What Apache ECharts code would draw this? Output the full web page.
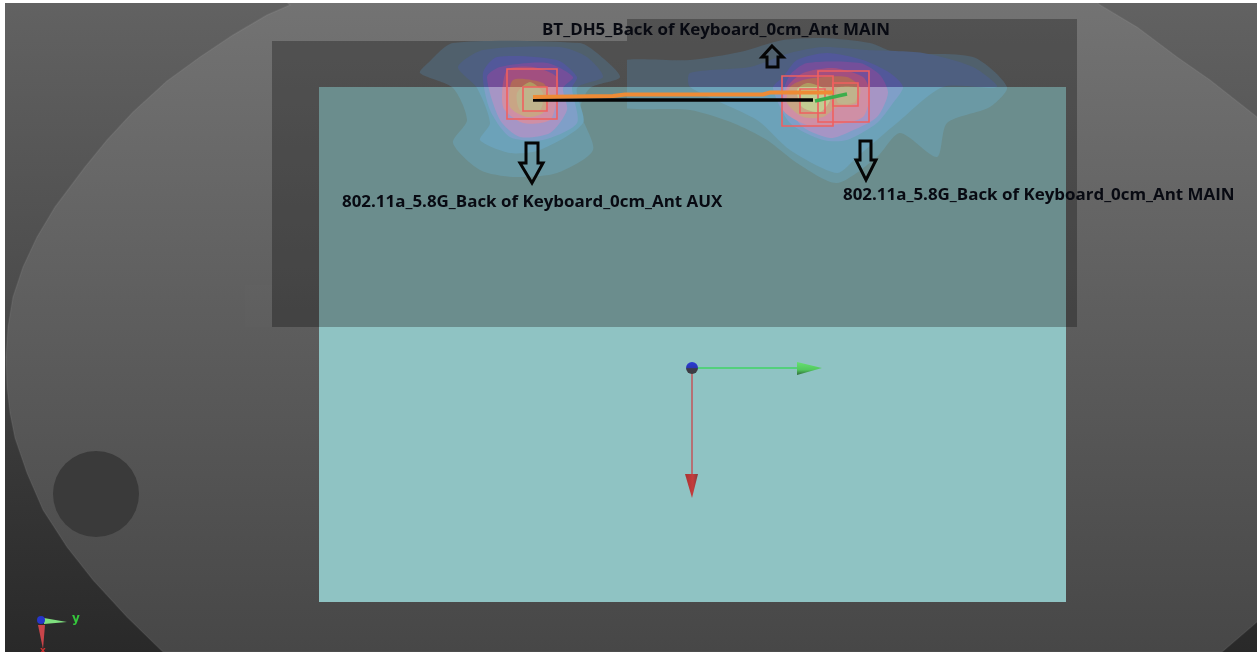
<!DOCTYPE html>
<html><head><meta charset="utf-8">
<style>html,body{margin:0;padding:0;background:#fff}#c{width:1257px;height:652px}</style>
<script src="https://cdn.jsdelivr.net/npm/echarts@6/dist/echarts.min.js"></script>
</head><body><div id="c"></div>
<script>
// ---- values, in the axis units of the scan plane ----
const boardOutline=[[284,0],[1095,0],[1100,5],[1137,27],[1177,57],[1210,80],[1257,117],[1300,170],[1340,370],[1300,590],[1257,622],[1222,652],[163,652],[127,617],[93,580],[67,547],[43,510],[27,473],[15,438],[10,413],[7,387],[6,357],[8,327],[13,297],[23,267],[37,237],[55,207],[85,167],[107,140],[133,112],[167,81],[200,57],[233,35],[267,15],[290,5]];
const darkOverlay=[[272,41],[627,41],[627,19],[1077,19],[1077,327],[272,327]];
const faintPatch=[[245,285],[272,285],[272,327],[245,327]];
const tealUpper=[[319,87],[1066,87],[1066,327],[319,327]];
const tealLower=[[319,327],[1066,327],[1066,602],[319,602]];
const leftL1=[[420,73],[428,63],[453,43],[580,43],[597,53],[620,77],[590,88],[580,110],[593,150],[557,173],[513,177],[480,170],[453,143],[467,120],[453,88]];
const leftL2=[[458,67],[483,50],[560,47],[587,57],[603,77],[577,88],[583,123],[540,150],[510,153],[480,140],[490,123],[477,88]];
const leftL3=[[483,73],[497,57],[557,60],[577,77],[572,88],[577,123],[543,140],[510,137],[490,110]];
const leftL4=[[487,77],[500,67],[547,63],[573,77],[563,88],[567,110],[550,133],[520,137],[500,120]];
const leftL5=[[507,70],[533,67],[557,77],[557,97],[550,120],[523,123],[503,107]];
const leftL6=[[513,80],[543,83],[550,97],[543,113],[527,117],[510,107]];
const leftL7=[[517,93],[530,82],[543,93],[540,110],[520,110]];
const rightL1=[[612,63],[690,60],[740,52],[783,40],[823,38],[870,43],[897,53],[973,57],[1007,87],[990,107],[947,123],[937,157],[900,133],[877,157],[837,183],[797,163],[767,140],[733,123],[690,110],[612,105]];
const rightL2=[[690,73],[750,67],[790,53],[823,47],[867,50],[923,53],[973,67],[997,87],[943,87],[897,123],[857,157],[837,173],[790,150],[757,120],[690,87]];
const rightL3=[[783,77],[797,60],[827,53],[863,60],[890,73],[903,87],[893,103],[877,123],[847,140],[823,140],[790,123],[773,88]];
const rightL4=[[790,75],[807,63],[860,63],[880,75],[888,93],[877,117],[847,133],[830,138],[803,127],[783,97]];
const rightL5=[[787,87],[803,73],[833,68],[863,77],[870,93],[863,117],[833,125],[807,125],[783,110]];
const rightL6=[[790,87],[803,80],[823,77],[847,77],[860,87],[857,103],[837,107],[823,117],[803,117],[787,103]];
const rightL7=[[797,90],[807,83],[823,88],[830,100],[820,112],[802,107]];
const rightPeak2=[[837,88],[857,88],[855,102],[838,103]];
const squareA=[[507,69],[557,119]],squareAi=[[523,87],[547,111]];
const squareB=[[818,71],[869,122]],squareBi=[[833,83],[858,106]];
const squareC=[[782,76],[833,126]],squareCi=[[800,89],[825,113]];
const orangeTrace=[[533,97],[613,96],[625,94.5],[763,94.5],[770,92.5],[833,92.5]];
const blackTrace=[[533,100],[813,100]];
const greenTrace=[[815,101],[847,94]];
const arrowLeft=[[526,143],[538,143],[538,163],[543,163],[532,183],[520,163],[526,163]];
const arrowRight=[[860,141],[871,141],[871,160],[876,160],[866,180],[856,160],[860,160]];
const arrowUp=[[772,46],[783,57],[778,57],[778,67],[767,67],[767,57],[762,57]];
const labelTexts=['BT_DH5_Back of Keyboard_0cm_Ant MAIN','802.11a_5.8G_Back of Keyboard_0cm_Ant AUX','802.11a_5.8G_Back of Keyboard_0cm_Ant MAIN'];
const labelAnchors=[[542,30],[342,202],[843,195]];
const triadY=[[692,368],[800,368]],triadX=[[692,368],[692,475]];
const coneY=[[797,362],[822,368],[797,375]],coneX=[[685,474],[698,474],[692,498]];
const miniY=[[44,618],[67,622],[44,624]],miniX=[[38,625],[45,625],[43,649]];
const holeCentre=[96,494],origin=[692,368],miniOrigin=[41,620];
const axisWord=['y','x'],axisWordAt=[[76,619],[43,651]];

const W=1257,H=652,EDGE=87,RIGHT_EDGE=627;
const paletteLow=['#6b99a4','#6ca2b9','#7f9fc8','#a695c5','#cf8fa5','#c9a585','#bfb48c'];
const paletteHigh=['#50606c','#4e5f80','#52589a','#744f9a','#a24f80','#b0685a','#b09a60'];
const paletteRight=['#c4cc92'];
const poly=(pts,fill,o={})=>({kind:'poly',pts,fill,...o});
const shapes=[];
const vGrad=(a,b)=>({type:'linear',x:0,y:0,x2:0,y2:H,global:true,colorStops:[{offset:0,color:a},{offset:1,color:b}]});
shapes.push({kind:'rect',pts:[[0,0],[W,H]],fill:{type:'linear',x:0,y:0,x2:0,y2:H,global:true,colorStops:[{offset:0,color:'#626262'},{offset:.45,color:'#4c4c4c'},{offset:.7,color:'#383838'},{offset:1,color:'#292929'}]}});
shapes.push(poly(boardOutline,vGrad('#737373','#474747'),{stroke:'rgba(255,255,255,.06)',lw:1.5}));
shapes.push({kind:'circle',c:holeCentre,r:43,fill:'#3a3a3a'});
shapes.push(poly(faintPatch,'rgba(255,255,255,.012)'));
shapes.push(poly(darkOverlay,'rgba(0,0,0,.28)'));
shapes.push(poly(tealUpper,'#6b8d8d'));
shapes.push(poly(tealLower,'#8fc3c3'));
[[leftL1,leftL2,leftL3,leftL4,leftL5,leftL6,leftL7],[rightL1,rightL2,rightL3,rightL4,rightL5,rightL6,rightL7]].forEach((set,k)=>{
  set.forEach((pts,i)=>{
    const clipX=k===1?RIGHT_EDGE:0;
    shapes.push(poly(pts,paletteHigh[i],{smooth:.25,clip:'high',clipX}));
    shapes.push(poly(pts,paletteLow[i],{smooth:.25,clip:'low',clipX}));
  });
});
shapes.push(poly(rightPeak2,paletteLow[6],{smooth:.25,clip:'low'}));
shapes.push(poly(rightPeak2,paletteHigh[6],{smooth:.25,clip:'high'}));
shapes.push(poly(rightL7,paletteRight[0],{smooth:.25,clip:'low'}));
[squareB,squareBi,squareA,squareAi,squareC,squareCi].forEach(s=>shapes.push({kind:'rect',pts:s,fill:null,stroke:'#f0605f',lw:1.6}));
shapes.push({kind:'line',pts:blackTrace,stroke:'#050505',lw:3.5});
shapes.push({kind:'line',pts:orangeTrace,stroke:'#ee8b35',lw:4});
shapes.push({kind:'line',pts:greenTrace,stroke:'#3cae4c',lw:3.5});
[arrowLeft,arrowRight,arrowUp].forEach(a=>shapes.push(poly(a,null,{stroke:'#050505',lw:3})));
labelTexts.forEach((t,i)=>shapes.push({kind:'text',at:labelAnchors[i],text:t,fill:'#080a12',font:'bold 16px "Open Sans"',sx:1.058}));
shapes.push({kind:'line',pts:triadY,stroke:'#3fd465',lw:1.5});
shapes.push({kind:'line',pts:triadX,stroke:'#c2555a',lw:1.5});
shapes.push(poly(coneY,{type:'linear',x:0,y:0,x2:0,y2:1,colorStops:[{offset:0,color:'#66e070'},{offset:.6,color:'#52c85e'},{offset:1,color:'#2f6a3a'}]}));
shapes.push(poly(coneX,{type:'linear',x:0,y:0,x2:1,y2:0,colorStops:[{offset:0,color:'#a83232'},{offset:.6,color:'#c43c3c'},{offset:1,color:'#8a3a3a'}]}));
shapes.push({kind:'circle',c:origin,r:6,fill:{type:'linear',x:0,y:0,x2:0,y2:1,colorStops:[{offset:0,color:'#2a3ad8'},{offset:.5,color:'#2a36b0'},{offset:.55,color:'#3c3c48'},{offset:1,color:'#3c3c40'}]}});
shapes.push(poly(miniX,'#c9454a'));
shapes.push(poly(miniY,'#7fe07f'));
shapes.push({kind:'circle',c:miniOrigin,r:4,fill:'#2636c8'});
shapes.push({kind:'text',at:axisWordAt[0],text:axisWord[0],fill:'#35c83c',font:'bold 12px "DejaVu Sans"',align:'center'});
shapes.push({kind:'text',at:axisWordAt[1],text:axisWord[1],fill:'#d03030',font:'bold 9px "DejaVu Sans"',align:'center'});
shapes.push({kind:'rect',pts:[[0,0],[5,H]],fill:'#ffffff'});
shapes.push({kind:'rect',pts:[[0,0],[W,3]],fill:'#ffffff'});

function renderItem(p,api){
  const s=shapes[api.value(0)];
  const co=q=>api.coord(q);
  const style={fill:s.fill||'none',stroke:s.stroke||'none',lineWidth:s.lw||0};
  if(s.kind==='poly'){
    const el={type:'polygon',shape:{points:s.pts.map(co),smooth:s.smooth||0},style};
    if(s.clip){
      const yc=co([0,EDGE])[1],xc=co([s.clipX||0,0])[0];
      el.clipPath={type:'rect',shape:s.clip==='high'?{x:xc,y:0,width:W-xc,height:yc}:{x:xc,y:yc,width:W-xc,height:H-yc}};
    }
    return el;
  }
  if(s.kind==='rect'){
    const a=co(s.pts[0]),b=co(s.pts[1]);
    return {type:'rect',shape:{x:a[0],y:a[1],width:b[0]-a[0],height:b[1]-a[1]},style};
  }
  if(s.kind==='circle'){
    const c=co(s.c);
    return {type:'circle',shape:{cx:c[0],cy:c[1],r:s.r},style};
  }
  if(s.kind==='line'){
    return {type:'polyline',shape:{points:s.pts.map(co)},style:{fill:'none',stroke:s.stroke,lineWidth:s.lw}};
  }
  const c=co(s.at);
  return {type:'text',x:c[0],y:c[1],scaleX:s.sx||1,style:{text:s.text,x:0,y:0,fill:s.fill,font:s.font,textAlign:s.align||'left',textVerticalAlign:'middle'}};
}
const chart=echarts.init(document.getElementById('c'),null,{renderer:'canvas'});
chart.setOption({
  animation:false,
  backgroundColor:'#ffffff',
  grid:{left:0,right:0,top:0,bottom:0},
  xAxis:{type:'value',min:0,max:W,show:false},
  yAxis:{type:'value',min:0,max:H,inverse:true,show:false},
  tooltip:{show:false},
  series:[{type:'custom',coordinateSystem:'cartesian2d',clip:false,silent:true,
    encode:{x:0,y:1},
    data:shapes.map((s,i)=>[i,0]),renderItem}]
});
</script></body></html>
